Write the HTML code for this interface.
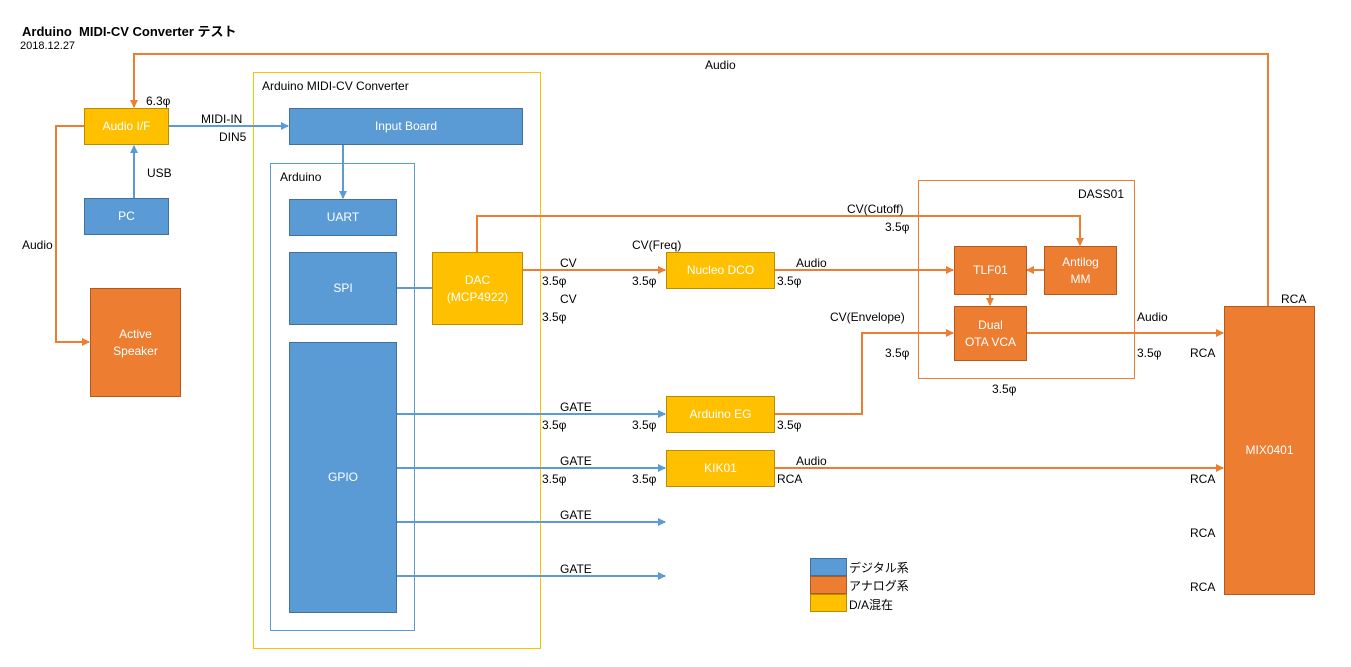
<!DOCTYPE html>
<html><head><meta charset="utf-8"><style>
body{margin:0;width:1351px;height:667px;background:#fff;position:relative;overflow:hidden;font-family:"Liberation Sans","Noto Sans CJK JP",sans-serif;font-size:12px;color:#000}
.b{position:absolute;box-sizing:border-box;display:flex;align-items:center;justify-content:center;text-align:center;color:#fff;font-size:12px;line-height:17px}
.bl{background:#5B9BD5;border:1px solid #41719C}
.or{background:#ED7D31;border:1px solid #AE5A21}
.ye{background:#FFC000;border:1px solid #BC8C00}
.t{position:absolute;white-space:nowrap;font-size:12px}
svg{position:absolute;left:0;top:0}
</style></head><body>
<div class="t" style="left:22px;top:21px;font-weight:bold;font-size:13px">Arduino&nbsp; MIDI-CV Converter テスト</div>
<div class="t" style="left:20px;top:40px;font-size:11px">2018.12.27</div>

<div class="b" style="left:253px;top:72px;width:288px;height:577px;border:1px solid #FFC000;background:none"></div>
<div class="t" style="left:262px;top:79px">Arduino MIDI-CV Converter</div>
<div class="b" style="left:270px;top:163px;width:145px;height:468px;border:1px solid #5B9BD5;background:none"></div>
<div class="t" style="left:280px;top:170px">Arduino</div>
<div class="b" style="left:918px;top:180px;width:217px;height:199px;border:1px solid #ED7D31;background:none"></div>
<div class="t" style="left:1078px;top:187px">DASS01</div>

<svg width="1351" height="667">
<defs>
<marker id="ao" markerWidth="8" markerHeight="8" refX="7" refY="4" orient="auto" markerUnits="userSpaceOnUse"><path d="M0,0L8,4L0,8z" fill="#ED7D31"/></marker>
<marker id="ab" markerWidth="8" markerHeight="8" refX="7" refY="4" orient="auto" markerUnits="userSpaceOnUse"><path d="M0,0L8,4L0,8z" fill="#5B9BD5"/></marker>
</defs>
<g fill="none" stroke-width="2">
<polyline points="1268,306 1268,54 134,54 134,107" stroke="#ED7D31" marker-end="url(#ao)"/>
<polyline points="84,126 56,126 56,342 89,342" stroke="#ED7D31" marker-end="url(#ao)"/>
<polyline points="134,198 134,146" stroke="#5B9BD5" marker-end="url(#ab)"/>
<polyline points="168,126 288,126" stroke="#5B9BD5" marker-end="url(#ab)"/>
<polyline points="343,144 343,198" stroke="#5B9BD5" marker-end="url(#ab)"/>
<polyline points="396,288 432,288" stroke="#5B9BD5"/>
<polyline points="477,252 477,216 1080,216 1080,245" stroke="#ED7D31" marker-end="url(#ao)"/>
<polyline points="522,270 665,270" stroke="#ED7D31" marker-end="url(#ao)"/>
<polyline points="774,270 953,270" stroke="#ED7D31" marker-end="url(#ao)"/>
<polyline points="1044,270 1027,270" stroke="#ED7D31" marker-end="url(#ao)"/>
<polyline points="990,294 990,305" stroke="#ED7D31" marker-end="url(#ao)"/>
<polyline points="774,414 862,414 862,333 953,333" stroke="#ED7D31" marker-end="url(#ao)"/>
<polyline points="1026,333 1223,333" stroke="#ED7D31" marker-end="url(#ao)"/>
<polyline points="774,468 1223,468" stroke="#ED7D31" marker-end="url(#ao)"/>
<polyline points="396,414 665,414" stroke="#5B9BD5" marker-end="url(#ab)"/>
<polyline points="396,468 665,468" stroke="#5B9BD5" marker-end="url(#ab)"/>
<polyline points="396,522 665,522" stroke="#5B9BD5" marker-end="url(#ab)"/>
<polyline points="396,576 665,576" stroke="#5B9BD5" marker-end="url(#ab)"/>
</g></svg>

<div class="b ye" style="left:84px;top:108px;width:85px;height:37px">Audio I/F</div>
<div class="b bl" style="left:84px;top:198px;width:85px;height:37px">PC</div>
<div class="b or" style="left:90px;top:288px;width:91px;height:109px">Active<br>Speaker</div>
<div class="b bl" style="left:289px;top:108px;width:234px;height:37px">Input Board</div>
<div class="b bl" style="left:289px;top:199px;width:108px;height:37px">UART</div>
<div class="b bl" style="left:289px;top:252px;width:108px;height:73px">SPI</div>
<div class="b bl" style="left:289px;top:342px;width:108px;height:271px">GPIO</div>
<div class="b ye" style="left:432px;top:252px;width:91px;height:73px">DAC<br>(MCP4922)</div>
<div class="b ye" style="left:666px;top:252px;width:109px;height:37px">Nucleo DCO</div>
<div class="b ye" style="left:666px;top:396px;width:109px;height:37px">Arduino EG</div>
<div class="b ye" style="left:666px;top:450px;width:109px;height:37px">KIK01</div>
<div class="b or" style="left:954px;top:246px;width:73px;height:49px">TLF01</div>
<div class="b or" style="left:1044px;top:246px;width:73px;height:49px">Antilog<br>MM</div>
<div class="b or" style="left:954px;top:306px;width:73px;height:55px">Dual<br>OTA VCA</div>
<div class="b or" style="left:1224px;top:306px;width:91px;height:289px">MIX0401</div>

<div class="b bl" style="left:810px;top:558px;width:37px;height:18px"></div>
<div class="b or" style="left:810px;top:576px;width:37px;height:18px"></div>
<div class="b ye" style="left:810px;top:594px;width:37px;height:18px"></div>
<div class="t" style="left:849px;top:559px">デジタル系</div>
<div class="t" style="left:849px;top:577px">アナログ系</div>
<div class="t" style="left:849px;top:596px">D/A混在</div>

<div class="t" style="left:705px;top:58px">Audio</div>
<div class="t" style="left:146px;top:94px">6.3φ</div>
<div class="t" style="left:201px;top:112px">MIDI-IN</div>
<div class="t" style="left:219px;top:130px">DIN5</div>
<div class="t" style="left:147px;top:166px">USB</div>
<div class="t" style="left:22px;top:238px">Audio</div>
<div class="t" style="left:847px;top:202px">CV(Cutoff)</div>
<div class="t" style="left:885px;top:220px">3.5φ</div>
<div class="t" style="left:632px;top:238px">CV(Freq)</div>
<div class="t" style="left:560px;top:256px">CV</div>
<div class="t" style="left:542px;top:274px">3.5φ</div>
<div class="t" style="left:560px;top:292px">CV</div>
<div class="t" style="left:542px;top:310px">3.5φ</div>
<div class="t" style="left:632px;top:274px">3.5φ</div>
<div class="t" style="left:796px;top:256px">Audio</div>
<div class="t" style="left:777px;top:274px">3.5φ</div>
<div class="t" style="left:830px;top:310px">CV(Envelope)</div>
<div class="t" style="left:885px;top:346px">3.5φ</div>
<div class="t" style="left:992px;top:382px">3.5φ</div>
<div class="t" style="left:1137px;top:310px">Audio</div>
<div class="t" style="left:1137px;top:346px">3.5φ</div>
<div class="t" style="left:1281px;top:292px">RCA</div>
<div class="t" style="left:1190px;top:346px">RCA</div>
<div class="t" style="left:1190px;top:472px">RCA</div>
<div class="t" style="left:1190px;top:526px">RCA</div>
<div class="t" style="left:1190px;top:580px">RCA</div>
<div class="t" style="left:560px;top:400px">GATE</div>
<div class="t" style="left:542px;top:418px">3.5φ</div>
<div class="t" style="left:632px;top:418px">3.5φ</div>
<div class="t" style="left:777px;top:418px">3.5φ</div>
<div class="t" style="left:560px;top:454px">GATE</div>
<div class="t" style="left:542px;top:472px">3.5φ</div>
<div class="t" style="left:632px;top:472px">3.5φ</div>
<div class="t" style="left:796px;top:454px">Audio</div>
<div class="t" style="left:777px;top:472px">RCA</div>
<div class="t" style="left:560px;top:508px">GATE</div>
<div class="t" style="left:560px;top:562px">GATE</div>
</body></html>
